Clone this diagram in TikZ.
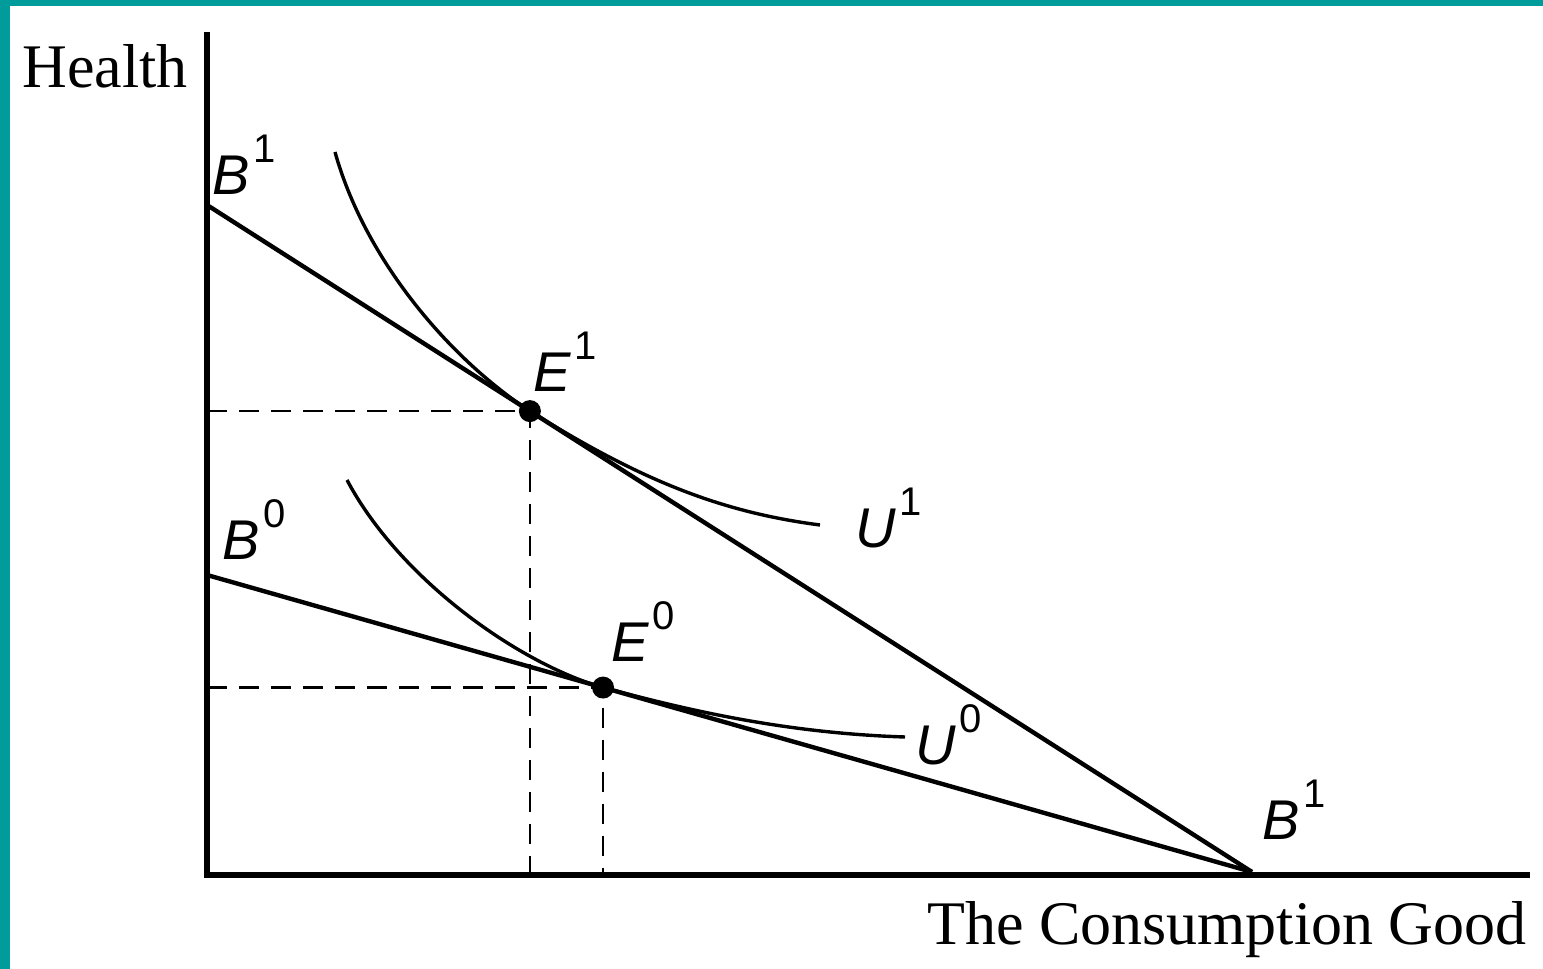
\documentclass[tikz,border=0pt]{standalone}
\usepackage{fontspec}
\setmainfont{Liberation Serif}
\setsansfont{Liberation Sans}
\usetikzlibrary{calc}

\definecolor{frameteal}{RGB}{0,155,155}
\newcommand{\curvelabel}[2]{{\fontsize{28}{28}\selectfont\sffamily\itshape #1}\kern2pt\raisebox{16pt}{\fontsize{20}{20}\selectfont\sffamily #2}}

\begin{document}
\begin{tikzpicture}[
  x=0.5pt, y=0.5pt,
  axis/.style={line width=2.6pt, line cap=rect},
  budget/.style={line width=2.2pt},
  indiff/.style={line width=1.7pt},
  guide/.style={line width=1.4pt, dash pattern=on 10pt off 6pt},
  optimum/.style={circle, fill=black, inner sep=0pt, minimum size=11pt},
  lbl/.style={inner sep=0pt, anchor=base west},
  axislbl/.style={inner sep=0pt, font=\fontsize{31}{31}\selectfont}
]
% page and frame
\fill[white] (0,0) rectangle (1543,969);
\fill[frameteal] (0,0) rectangle (10,969);
\fill[frameteal] (0,963) rectangle (1543,969);
\useasboundingbox (0,0) rectangle (1543,969);

% axes
\coordinate (o) at (207,94);
\coordinate (ytop) at (207,934);
\coordinate (xend) at (1527,94);
\draw[axis] (ytop) -- (o) -- (xend);
\node[axislbl, anchor=base west] (health) at (22,881) {Health};
\node[axislbl, anchor=base east] (good) at (1527,24) {The Consumption Good};

% budget lines
\coordinate (b1) at (207,764);
\coordinate (b0) at (207,394);
\coordinate (bx) at (1252,97);
\draw[budget] (b1) -- (bx);
\draw[budget] (b0) -- (bx);

% optima
\node[optimum] (e1) at ($(b1)!0.309!(bx)$) {};
\node[optimum] (e0) at ($(b0)!0.379!(bx)$) {};
\draw[guide] (o |- e1) -- (e1.center) -- (e1 |- o);
\draw[guide] (o |- e0) -- (e0.center) -- (e0 |- o);

% indifference curves
\draw[indiff] (335,817) .. controls (365,709) and (450,610) .. (e1.center)
  .. controls (640,489) and (720,457) .. (820,444);
\draw[indiff] (347,489) .. controls (400,389) and (520,305) .. (e0.center)
  .. controls (680,261) and (780,236) .. (905,232);

% labels
\node[lbl] (lb1) at (212,774) {\curvelabel{B}{1}};
\node[lbl] (lb0) at (222,409) {\curvelabel{B}{0}};
\node[lbl] (le1) at (533,577) {\curvelabel{E}{1}};
\node[lbl] (le0) at (611,307) {\curvelabel{E}{0}};
\node[lbl] (lu1) at (855,421) {\curvelabel{U}{1}};
\node[lbl] (lu0) at (915,204) {\curvelabel{U}{0}};
\node[lbl] (lbx) at (1262,129) {\curvelabel{B}{1}};
\end{tikzpicture}
\end{document}
